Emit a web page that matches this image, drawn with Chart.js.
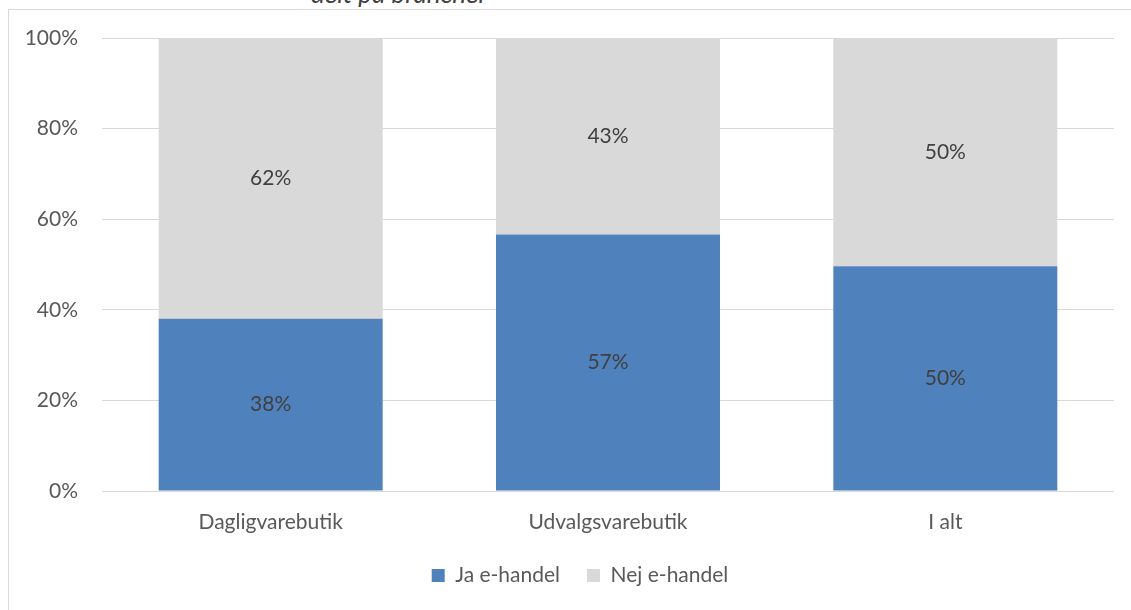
<!DOCTYPE html>
<html>
<head>
<meta charset="utf-8">
<script src="https://cdn.jsdelivr.net/npm/chart.js@4/dist/chart.umd.min.js"></script>
<style>
  html, body { margin: 0; padding: 0; background: #fff; overflow: hidden; }
  #wrap { position: relative; width: 1131px; height: 610px; overflow: hidden; }
  #frame { position: absolute; left: 8px; top: 9px; width: 1200px; height: 700px;
           border-left: 1px solid #d9d9d9; border-top: 1px solid #d9d9d9; }
  #title { position: absolute; left: 311px; top: -22px; font: italic 26px Lato, sans-serif;
           line-height: 30px; color: #404040; white-space: nowrap; }
  canvas { position: absolute; left: 0; top: 0; }
</style>
</head>
<body>
<div id="wrap">
  <div id="frame"></div>
  <div id="title">delt på brancher</div>
  <canvas id="graph" width="1131" height="610"></canvas>
</div>
<script>
var categories = ['Dagligvarebutik', 'Udvalgsvarebutik', 'I alt'];
var jaValues = [38, 56.6, 49.6];
var nejValues = [62, 43.4, 50.4];
var yTicks = [0, 20, 40, 60, 80, 100];

var fontFamily = 'Lato, sans-serif';
var fontSize = 21;

// draws the value label in the middle of every bar segment
var barLabels = {
  id: 'barLabels',
  afterDatasetsDraw: function (chart) {
    var ctx = chart.ctx;
    ctx.save();
    ctx.font = fontSize + 'px ' + fontFamily;
    ctx.fillStyle = '#404040';
    ctx.textAlign = 'center';
    ctx.textBaseline = 'middle';
    chart.data.datasets.forEach(function (ds, i) {
      chart.getDatasetMeta(i).data.forEach(function (bar, j) {
        ctx.fillText(Math.round(ds.data[j]) + '%', bar.x, (bar.y + bar.base) / 2);
      });
    });
    ctx.restore();
  }
};

// legend sits a bit right of the canvas centre in the original
var legendShift = {
  id: 'legendShift',
  afterLayout: function (chart) {
    chart.legend.left += 13;
    chart.legend.right += 13;
  }
};

new Chart(document.getElementById('graph'), {
  type: 'bar',
  data: {
    labels: categories,
    datasets: [
      { label: 'Ja e-handel', data: jaValues, backgroundColor: '#4f81bd' },
      { label: 'Nej e-handel', data: nejValues, backgroundColor: '#d9d9d9' }
    ]
  },
  options: {
    responsive: false,
    animation: false,
    layout: { padding: { left: 20, right: 17, top: 38, bottom: 14 } },
    scales: {
      x: {
        stacked: true,
        afterFit: function (axis) { axis.height = 47; },
        grid: { display: false },
        border: { display: false },
        ticks: { color: '#595959', font: { family: fontFamily, size: fontSize }, padding: 11 }
      },
      y: {
        stacked: true,
        min: 0,
        max: 100,
        afterBuildTicks: function (axis) {
          axis.ticks = yTicks.map(function (v) { return { value: v }; });
        },
        afterFit: function (axis) { axis.width = 82; },
        grid: { color: '#d9d9d9', lineWidth: 1, drawTicks: false },
        border: { display: false },
        ticks: {
          color: '#595959',
          font: { family: fontFamily, size: fontSize },
          padding: 24,
          callback: function (v) { return v + '%'; }
        }
      }
    },
    datasets: { bar: { categoryPercentage: 1, barPercentage: 0.664 } },
    plugins: {
      legend: {
        position: 'bottom',
        labels: {
          boxWidth: 13,
          boxHeight: 13,
          color: '#595959',
          font: { family: fontFamily, size: fontSize },
          padding: 27
        }
      },
      tooltip: { enabled: false }
    }
  },
  plugins: [barLabels, legendShift]
});
</script>
</body>
</html>
